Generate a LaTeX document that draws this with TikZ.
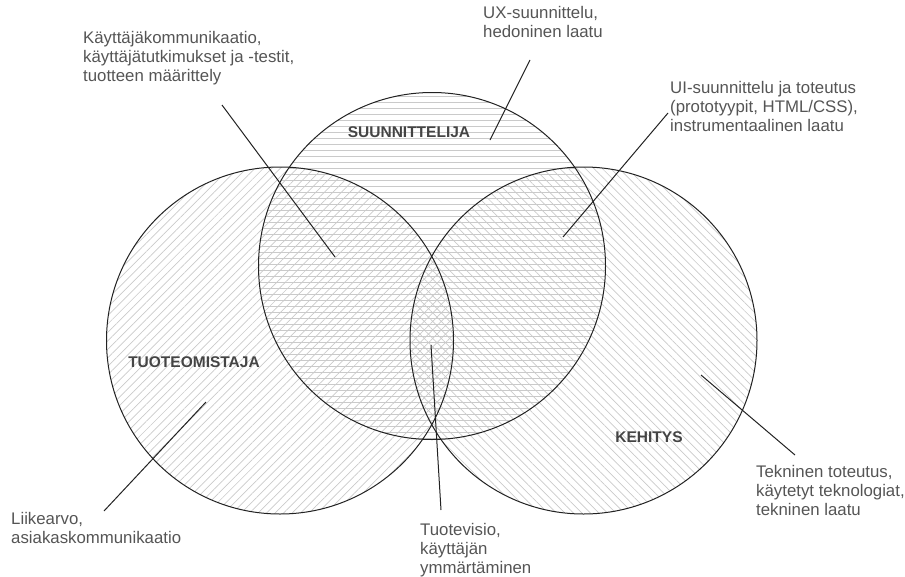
\documentclass[tikz,border=0pt]{standalone}
\usepackage{fontspec}
\setmainfont{Liberation Sans}
\usetikzlibrary{patterns.meta}
\definecolor{txtgray}{HTML}{555555}
\definecolor{headgray}{HTML}{444444}
\definecolor{hatch}{HTML}{CACACA}
\definecolor{inkline}{HTML}{222222}

\begin{document}
\begin{tikzpicture}[x=1pt,y=1pt]
\tikzset{role/.style=
	{circle,inner sep=0pt,minimum size=347pt,pattern color=hatch},
	ring/.style=
	{draw=inkline,line width=1pt},
	leader/.style=
	{draw=inkline,line width=1pt},
	rolename/.style=
	{font=\fontsize{15.5}{18}\selectfont\bfseries,text=headgray},
	note/.style=
	{anchor=north west,align=left,inner sep=0pt,text=txtgray,
	 font=\fontsize{16.8}{19}\selectfont}}
\useasboundingbox (0,0) rectangle (905,-576);

% the three roles
\node[role,pattern={Lines[angle=45,distance=6pt,line width=0.7pt]}] (owner) at (280,-340.5) {};
\node[role,pattern={Lines[angle=0,distance=6pt,line width=0.7pt]}] (designer) at (432,-266) {};
\node[role,pattern={Lines[angle=-45,distance=6pt,line width=0.7pt]}] (dev) at (583.5,-340.5) {};
\foreach \r in {owner,designer,dev}
	\draw[ring] (\r.center) circle (173.5);

\node[rolename] (ownername) at (194,-362) {TUOTEOMISTAJA};
\node[rolename] (designername) at (409,-132) {SUUNNITTELIJA};
\node[rolename] (devname) at (649,-437) {KEHITYS};

% notes
\node[note] (userwork) at (83,-31) {Käyttäjäkommunikaatio,\\käyttäjätutkimukset ja -testit,\\tuotteen määrittely};
\node[note] (ux) at (483,-6) {UX-suunnittelu,\\hedoninen laatu};
\node[note] (ui) at (670,-81) {UI-suunnittelu ja toteutus\\(prototyypit, HTML/CSS),\\instrumentaalinen laatu};
\node[note] (business) at (11,-512) {Liikearvo,\\asiakaskommunikaatio};
\node[note] (vision) at (420,-523) {Tuotevisio,\\käyttäjän\\ymmärtäminen};
\node[note] (tech) at (756,-465) {Tekninen toteutus,\\käytetyt teknologiat,\\tekninen laatu};

% leader lines
\coordinate (userworkA) at (222,-105);
\coordinate (userworkB) at (335,-257);
\coordinate (uxA) at (530,-60);
\coordinate (uxB) at (490,-140);
\coordinate (uiA) at (668,-113);
\coordinate (uiB) at (563,-237);
\coordinate (businessA) at (104,-511);
\coordinate (businessB) at (206,-402);
\coordinate (visionA) at (441,-510);
\coordinate (visionB) at (431,-345);
\coordinate (techA) at (795,-455);
\coordinate (techB) at (701,-375);
\foreach \n in {userwork,ux,ui,business,vision,tech}
	\draw[leader] (\n A) -- (\n B);
\end{tikzpicture}
\end{document}
